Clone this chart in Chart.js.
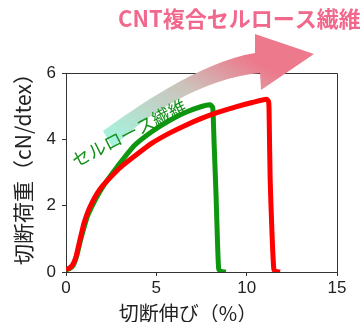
<!DOCTYPE html>
<html>
<head>
<meta charset="utf-8">
<script src="https://cdn.jsdelivr.net/npm/chart.js@4"></script>
<style>
    html, body { margin: 0; padding: 0; background: #fff; }
    canvas { display: block; }
</style>
</head>
<body>
<canvas id="grafica" width="360" height="322"></canvas>
<script>
// Datos: elongación (%) y carga de rotura (cN/dtex)
const celulosaX = [0, 0.2, 0.4, 0.6, 0.8, 1.0, 1.2, 1.5, 1.8, 2.2, 2.9, 3.8, 4.8, 5.7, 6.6, 7.5, 7.98, 8.12, 8.16, 8.2, 8.3, 8.38, 8.45, 8.55, 8.85];
const celulosaY = [0.07, 0.1, 0.2, 0.5, 0.95, 1.35, 1.7, 2.05, 2.35, 2.7, 3.22, 3.82, 4.25, 4.56, 4.81, 4.99, 5.04, 4.96, 4.5, 3.85, 2.4, 1.0, 0.1, 0.02, 0];

const cntX = [0, 0.2, 0.4, 0.55, 0.7, 0.85, 1.0, 1.2, 1.45, 1.7, 2.0, 2.5, 3.0, 4.0, 4.8, 5.7, 6.6, 7.5, 8.4, 9.4, 10.3, 11.1, 11.22, 11.25, 11.3, 11.4, 11.5, 11.6, 11.85];
const cntY = [0.07, 0.12, 0.25, 0.45, 0.8, 1.15, 1.48, 1.8, 2.1, 2.35, 2.58, 2.88, 3.15, 3.58, 3.9, 4.18, 4.42, 4.63, 4.81, 4.98, 5.11, 5.21, 5.12, 4.5, 2.8, 1.2, 0.1, 0.02, 0];

// Marcas de los ejes
const xTicks = [0, 5, 10, 15];
const yTicks = [0, 2, 4, 6];

// Textos
const tituloX = '切断伸び（%）';
const tituloY = '切断荷重（cN/dtex）';
const etiquetaCelulosa = 'セルロース繊維';
const etiquetaCNT = 'CNT複合セルロース繊維';

const fuenteJP = '"Noto Sans CJK JP", "Noto Sans", sans-serif';

function pares(xs, ys) {
    return xs.map((x, i) => ({ x: x, y: ys[i] }));
}

// Marco, flecha y textos dibujados a mano
const decoracion = {
    id: 'decoracion',
    beforeDatasetsDraw(chart) {
        const { ctx, chartArea } = chart;
        ctx.save();
        ctx.strokeStyle = '#333';
        ctx.lineWidth = 1;
        ctx.beginPath();
        ctx.moveTo(chartArea.left, chartArea.top + 0.5);
        ctx.lineTo(chartArea.right + 0.5, chartArea.top + 0.5);
        ctx.lineTo(chartArea.right + 0.5, chartArea.bottom);
        ctx.stroke();
        ctx.restore();
    },
    afterDraw(chart) {
        const ctx = chart.ctx;
        ctx.save();

        // Flecha curva con degradado
        const grad = ctx.createLinearGradient(130, 150, 200, 30);
        grad.addColorStop(0, '#a6f2dc');
        grad.addColorStop(0.6, '#cdc2bb');
        grad.addColorStop(1, '#ec7a8c');
        ctx.fillStyle = grad;
        ctx.beginPath();
        ctx.moveTo(103, 131);
        ctx.bezierCurveTo(135, 108, 200, 62, 255, 53);
        ctx.lineTo(255, 34);
        ctx.lineTo(314, 54);
        ctx.lineTo(261, 90);
        ctx.lineTo(260, 73);
        ctx.bezierCurveTo(205, 78, 145, 114, 113, 148);
        ctx.closePath();
        ctx.fill();

        // Etiqueta de la fibra de celulosa
        ctx.save();
        ctx.translate(129, 133);
        ctx.rotate(-27 * Math.PI / 180);
        ctx.font = '18px ' + fuenteJP;
        ctx.fillStyle = '#13901a';
        ctx.textAlign = 'center';
        ctx.textBaseline = 'middle';
        ctx.fillText(etiquetaCelulosa, 0, 0);
        ctx.restore();

        // Etiqueta de la fibra compuesta
        ctx.font = 'bold 22px ' + fuenteJP;
        ctx.fillStyle = '#f2688c';
        ctx.textAlign = 'left';
        ctx.textBaseline = 'middle';
        ctx.fillText(etiquetaCNT, 118, 19);

        // Títulos de los ejes
        ctx.fillStyle = '#222';
        ctx.font = '20px ' + fuenteJP;
        ctx.textAlign = 'center';
        ctx.fillText(tituloX, 188, 313);
        ctx.save();
        ctx.translate(23, 164);
        ctx.rotate(-Math.PI / 2);
        ctx.font = '21px ' + fuenteJP;
        ctx.fillText(tituloY, 0, 0);
        ctx.restore();

        ctx.restore();
    }
};

function crearGrafica() {
    const ctx = document.getElementById('grafica').getContext('2d');
    new Chart(ctx, {
        type: 'line',
        data: {
            datasets: [
                {
                    label: 'CNT複合セルロース繊維',
                    data: pares(cntX, cntY),
                    borderColor: '#ff0000',
                    borderWidth: 5,
                    pointRadius: 0,
                    fill: false,
                    tension: 0.2
                },
                {
                    label: 'セルロース繊維',
                    data: pares(celulosaX, celulosaY),
                    borderColor: '#0e960e',
                    borderWidth: 5,
                    pointRadius: 0,
                    fill: false,
                    tension: 0.2
                }
            ]
        },
        options: {
            responsive: false,
            animation: false,
            layout: {
                padding: { top: 73, right: 23, left: 0, bottom: 0 }
            },
            plugins: {
                legend: { display: false },
                tooltip: { enabled: false }
            },
            scales: {
                x: {
                    type: 'linear',
                    min: 0,
                    max: 15,
                    afterBuildTicks: scale => { scale.ticks = xTicks.map(v => ({ value: v })); },
                    afterFit: scale => { scale.height = 50; },
                    grid: { drawOnChartArea: false, tickLength: 4, color: '#333' },
                    border: { color: '#333', width: 1 },
                    ticks: {
                        color: '#222',
                        padding: 2,
                        maxRotation: 0,
                        font: { family: '"Liberation Sans", Arial, sans-serif', size: 17 }
                    }
                },
                y: {
                    type: 'linear',
                    min: 0,
                    max: 6,
                    afterBuildTicks: scale => { scale.ticks = yTicks.map(v => ({ value: v })); },
                    afterFit: scale => { scale.width = 66; },
                    grid: { drawOnChartArea: false, tickLength: 4, color: '#333' },
                    border: { color: '#333', width: 1 },
                    ticks: {
                        color: '#222',
                        padding: 6,
                        font: { family: '"Liberation Sans", Arial, sans-serif', size: 17 }
                    }
                }
            }
        },
        plugins: [decoracion]
    });
}

crearGrafica();
</script>
</body>
</html>
